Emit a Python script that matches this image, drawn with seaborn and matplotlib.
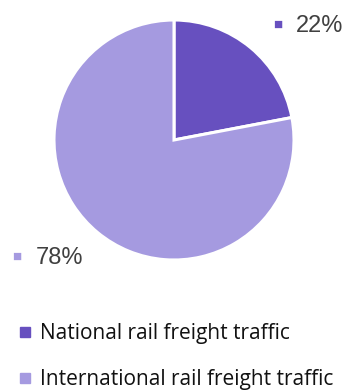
import matplotlib
matplotlib.use("Agg")
import matplotlib.pyplot as plt
from matplotlib.lines import Line2D
import seaborn as sns

categories = ["National rail freight traffic", "International rail freight traffic"]
shares = [22, 78]
colors = ["#6750bf", "#a59ae0"]

sns.set_theme(style="white")
plt.rcParams["font.family"] = ["Liberation Sans", "DejaVu Sans"]

W, H = 348, 392
fig = plt.figure(figsize=(W / 100, H / 100), dpi=100)
cx, cy, r = 174, 140, 120
ax = fig.add_axes([(cx - r) / W, 1 - (cy + r) / H, 2 * r / W, 2 * r / H])
wedges, _ = ax.pie(shares, colors=colors, startangle=90, counterclock=False,
                   wedgeprops=dict(edgecolor="white", linewidth=2.2))
ax.set_xlim(-1, 1)
ax.set_ylim(-1, 1)
ax.set_aspect("equal")

# outside value labels with a colored square key (pixel positions)
key_pos = [(278, 24.5), (17, 256.5)]
text_pos = [(296, 25.5), (36, 258)]
for (kx, ky), (tx, ty), val, col in zip(key_pos, text_pos, shares, colors):
    fig.text(kx / W, 1 - ky / H, "\u25A0", color=col, fontsize=11,
             ha="center", va="center")
    fig.text(tx / W, 1 - ty / H, f"{val}%", color="#404040", fontsize=17,
             ha="left", va="center")

handles = [Line2D([0], [0], marker="s", linestyle="none", markersize=6.5,
                  markerfacecolor=c, markeredgecolor=c) for c in colors]
leg = fig.legend(handles, categories, loc="center left",
                 bbox_to_anchor=(18 / W, 1 - 357 / H),
                 frameon=False, handletextpad=0.35, labelspacing=1.2,
                 handlelength=0.7, borderaxespad=0, borderpad=0,
                 prop=dict(family=["Open Sans", "DejaVu Sans"], size=15))
for t in leg.get_texts():
    t.set_color("#111111")

fig.savefig("out.png", dpi=100)
